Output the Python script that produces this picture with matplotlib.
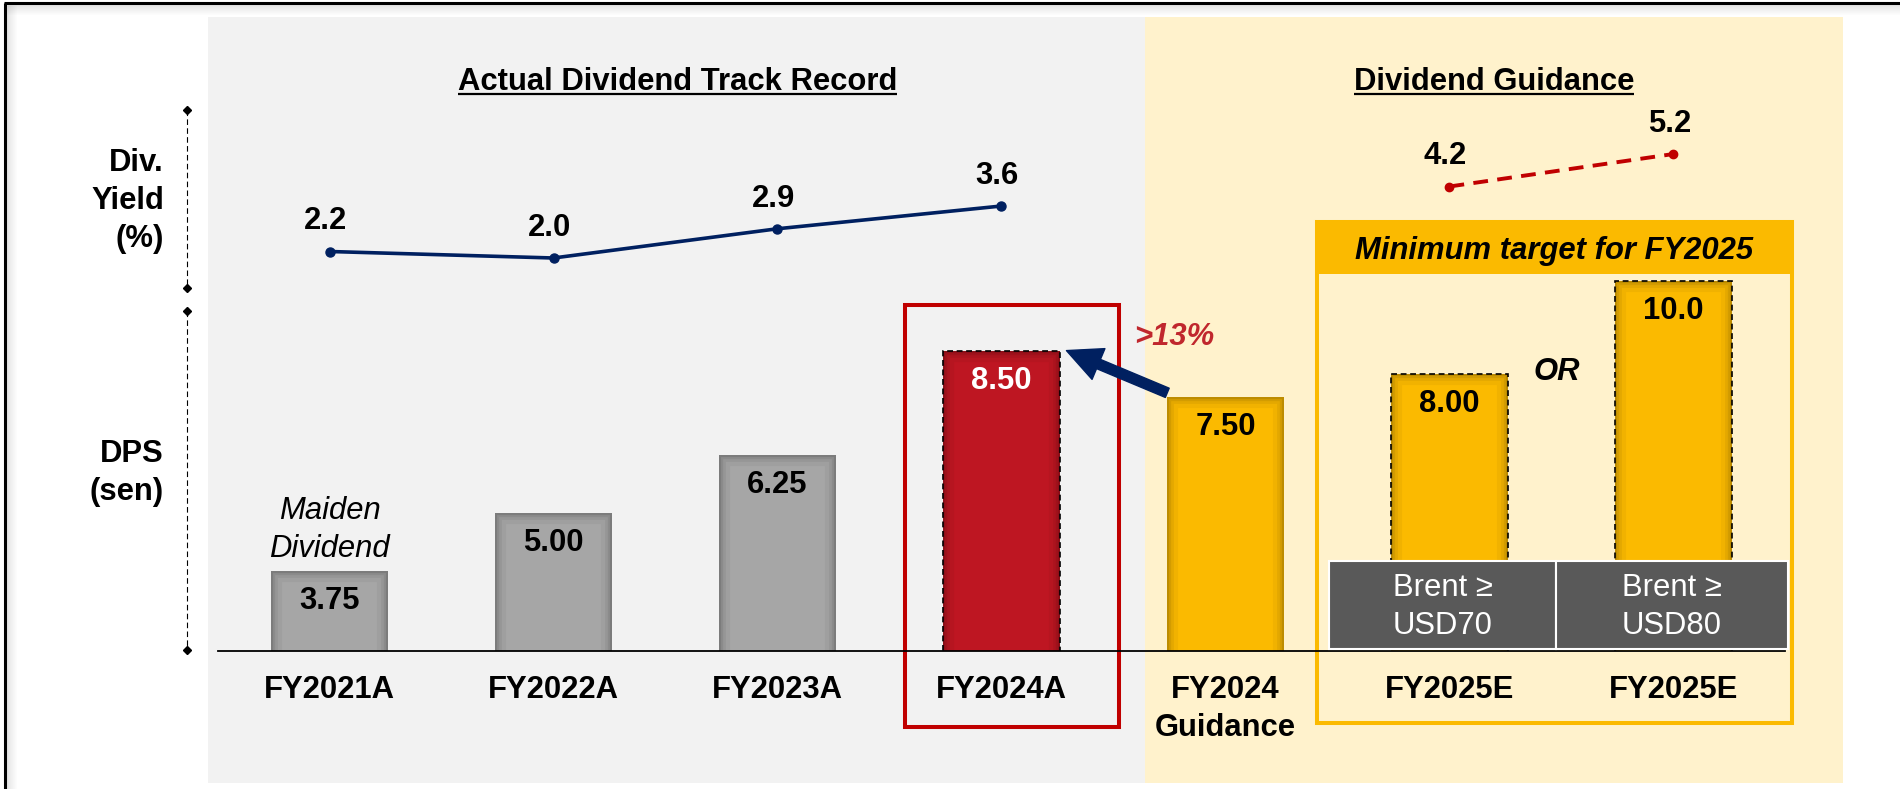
import matplotlib
matplotlib.use('Agg')
import matplotlib.pyplot as plt
from matplotlib.patches import Rectangle
import numpy as np

plt.rcParams['font.family'] = ['Liberation Sans', 'DejaVu Sans']

# ---------------- data ----------------
categories = ['FY2021A', 'FY2022A', 'FY2023A', 'FY2024A', 'FY2024\nGuidance', 'FY2025E', 'FY2025E']
dps = [3.75, 5.00, 6.25, 8.50, 7.50, 8.00, 10.0]
dps_labels = ['3.75', '5.00', '6.25', '8.50', '7.50', '8.00', '10.0']
yield_actual_idx = [0, 1, 2, 3]
yield_actual = [2.2, 2.0, 2.9, 3.6]
yield_guid_idx = [5, 6]
yield_guid = [4.2, 5.2]
brent_labels = ['Brent ≥\nUSD70', 'Brent ≥\nUSD80']

GRAY = '#A6A6A6'
RED = '#BE1622'
GOLD = '#FBBA00'
bar_colors = [GRAY, GRAY, GRAY, RED, GOLD, GOLD, GOLD]
dashed_border = [False, False, False, True, False, True, True]
label_colors = ['black', 'black', 'black', 'white', 'black', 'black', 'black']

W, H = 1900, 789
FS = 22.3
LS = 1.36
fig = plt.figure(figsize=(19, 7.89), dpi=100)


def px_axes(z):
    ax = fig.add_axes([0, 0, 1, 1], zorder=z)
    ax.set_xlim(0, W)
    ax.set_ylim(H, 0)
    ax.axis('off')
    return ax


bg = px_axes(0)

# outer frame with soft shadow
for i in range(10):
    a = 0.10 * (1 - i / 10)
    bg.plot([7 + i, 7 + i], [5, H], color='black', alpha=a, lw=0.75, solid_capstyle='butt')
    bg.plot([7, W], [5 + i, 5 + i], color='black', alpha=a, lw=0.75, solid_capstyle='butt')
bg.plot([5, 5], [3, H], color='black', lw=2.2, solid_capstyle='butt')
bg.plot([4, W], [3, 3], color='black', lw=2.2, solid_capstyle='butt')

# section panels
bg.add_patch(Rectangle((208, 17), 937, 766, fc='#F2F2F2', ec='none'))
bg.add_patch(Rectangle((1145, 17), 698, 766, fc='#FFF2CC', ec='none'))

# highlight boxes
bg.add_patch(Rectangle((905, 305), 214, 422, fill=False, ec='#C00000', lw=2.9))
bg.add_patch(Rectangle((1317, 222), 475, 52, fc=GOLD, ec='none'))
bg.add_patch(Rectangle((1317, 222), 475, 501, fill=False, ec=GOLD, lw=2.9))

# section titles (underlined)
titles = []
titles.append(bg.text(677.5, 90, 'Actual Dividend Track Record', ha='center', va='baseline',
                      fontsize=FS, fontweight='bold'))
titles.append(bg.text(1494, 90, 'Dividend Guidance', ha='center', va='baseline',
                      fontsize=FS, fontweight='bold'))

# left-side labels and brackets
bg.text(164, 201, 'Div.\nYield\n(%)', ha='right', va='center', fontsize=FS,
        fontweight='bold', linespacing=LS)
bg.text(164, 473, 'DPS\n(sen)', ha='right', va='center', fontsize=FS,
        fontweight='bold', linespacing=LS)
for y0, y1 in [(110, 288), (311, 650)]:
    bg.plot([187, 187], [y0, y1], color='black', lw=0.8, ls=(0, (5, 3)))
    bg.plot([187, 187], [y0, y1], ls='none', marker='D', ms=4.5, color='black')

# ---------------- bar axes (DPS) ----------------
base_px, top_px = 650.7, 257.8
ax = fig.add_axes([217.5 / W, (H - base_px) / H, 1568 / W, (base_px - top_px) / H], zorder=1)
ax.patch.set_alpha(0)
ybot = 2.032
ax.set_xlim(-0.5, 6.5)
ax.set_ylim(ybot, 10.5)
for s in ['top', 'right', 'left']:
    ax.spines[s].set_visible(False)
ax.spines['bottom'].set_color('black')
ax.spines['bottom'].set_linewidth(1.3)
ax.set_yticks([])
x = np.arange(len(dps))
bw = 0.52
bars = ax.bar(x, dps, width=bw, color=bar_colors, zorder=2)
ax.set_xticks(x, categories, fontsize=FS, fontweight='bold', linespacing=LS)
ax.tick_params(axis='x', length=0, pad=17.6)

for b, v, dashed in zip(bars, dps, dashed_border):
    bx, w = b.get_x(), b.get_width()
    clip = Rectangle((bx, ybot), w, v - ybot, transform=ax.transData)
    for lw, a in [(16, 0.04), (10, 0.05), (6, 0.07), (3, 0.10)]:
        r = Rectangle((bx, ybot - 1), w, v - ybot + 1, fill=False, ec='black', lw=lw,
                      alpha=a, zorder=2.1)
        ax.add_patch(r)
        r.set_clip_path(clip)
    if dashed:
        ax.add_patch(Rectangle((bx, ybot - 1), w, v - ybot + 1, fill=False, ec='black',
                               lw=1.2, ls=(0, (3.5, 2.2)), zorder=2.2))

for xi, v, lab, c in zip(x, dps, dps_labels, label_colors):
    ax.annotate(lab, (xi, v), xytext=(0, -27.5), textcoords='offset points', ha='center',
                va='baseline', fontsize=FS, fontweight='bold', color=c, zorder=3)

ax.annotate('Maiden\nDividend', (0, dps[0]), xytext=(0, 29.5), textcoords='offset points',
            ha='center', va='center', fontsize=FS, fontstyle='italic', linespacing=LS)

# growth arrow FY2024 guidance -> FY2024A
ax.annotate('', xy=(3.29, dps[3]), xytext=(3.74, 7.59),
            arrowprops=dict(arrowstyle='simple,head_length=1.25,head_width=1.2,tail_width=0.36',
                            mutation_scale=20, fc='#002060', ec='#002060', shrinkA=0, shrinkB=0),
            zorder=4)
ax.text(3.77, 8.79, '>13%', ha='center', va='center', fontsize=FS, fontweight='bold',
        fontstyle='italic', color='#C0272D')
ax.text(5.48, 8.04, 'OR', ha='center', va='center', fontsize=FS, fontweight='bold',
        fontstyle='italic', color='black')

# ---------------- yield axes ----------------
y0_px, y1_px = 323, 95.5
ay = fig.add_axes([217.5 / W, (H - y0_px) / H, 1568 / W, (y0_px - y1_px) / H], zorder=2)
ay.patch.set_alpha(0)
ay.set_xlim(-0.5, 6.5)
ay.set_ylim(0, 7)
ay.axis('off')
ay.plot(yield_actual_idx, yield_actual, color='#002060', lw=2.6, marker='o', ms=6.5,
        solid_capstyle='round')
ay.plot(yield_guid_idx, yield_guid, color='#C00000', lw=2.8, marker='o', ms=6,
        dashes=(3.8, 2.4))
for xi, v in list(zip(yield_actual_idx, yield_actual)) + list(zip(yield_guid_idx, yield_guid)):
    ay.annotate(f'{v:.1f}', (xi, v), xytext=(-3, 16.0), textcoords='offset points',
                ha='center', va='baseline', fontsize=FS, fontweight='bold')

# ---------------- top overlay ----------------
top = px_axes(3)
top.text(1554.5, 259.5, 'Minimum target for FY2025', ha='center', va='baseline',
         fontsize=FS, fontweight='bold', fontstyle='italic')
for (bx0, bwid), lab in zip([(1329, 227), (1556, 232)], brent_labels):
    top.add_patch(Rectangle((bx0, 561), bwid, 88, fc='#595959', ec='white', lw=1.5))
    top.text(bx0 + bwid / 2, 607, lab, ha='center', va='center', fontsize=FS,
             color='white', linespacing=LS)

# underline the section titles
fig.canvas.draw()
for t in titles:
    bb = t.get_window_extent()
    bg.plot([bb.x0, bb.x1], [94, 94], color='black', lw=1.6, solid_capstyle='butt')

fig.savefig('out.png', dpi=100)
